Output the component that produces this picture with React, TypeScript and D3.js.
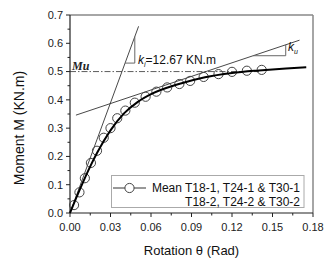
import React from "react";
import * as d3 from "d3";

const xTicks = [0, 0.03, 0.06, 0.09, 0.12, 0.15, 0.18];
const yTicks = [0, 0.1, 0.2, 0.3, 0.4, 0.5, 0.6, 0.7];
const xMinor = [0.015, 0.045, 0.075, 0.105, 0.135, 0.165];
const yMinor = [0.05, 0.15, 0.25, 0.35, 0.45, 0.55, 0.65];

const meanX = [0.003, 0.007, 0.011, 0.0155, 0.02, 0.025, 0.03, 0.035, 0.041, 0.048, 0.056, 0.064, 0.072, 0.081, 0.089, 0.099, 0.11, 0.12, 0.131, 0.142];
const meanY = [0.028, 0.073, 0.123, 0.177, 0.22, 0.266, 0.3, 0.335, 0.362, 0.39, 0.411, 0.429, 0.444, 0.456, 0.467, 0.481, 0.491, 0.499, 0.503, 0.506];

const fitX = [0, 0.005, 0.01, 0.015, 0.02, 0.03, 0.04, 0.05, 0.06, 0.08, 0.1, 0.12, 0.14, 0.16, 0.175];
const fitY = [0, 0.058, 0.113, 0.165, 0.212, 0.292, 0.352, 0.392, 0.42, 0.455, 0.48, 0.495, 0.504, 0.511, 0.515];

// initial stiffness line (through origin) and post-yield line
const kiLineX = [0, 0.0508];
const kiLineY = [0, 0.66];
const kuLineX = [0.0044, 0.17];
const kuLineY = [0.346, 0.611];
const muValue = 0.5;
const muEndX = 0.14;

const W = 334, H = 269;
const M = { left: 70, right: 313, top: 15, bottom: 213 };

export default function App() {
  const x = d3.scaleLinear().domain([0, 0.18]).range([M.left, M.right]);
  const y = d3.scaleLinear().domain([0, 0.7]).range([M.bottom, M.top]);
  const font = "'Liberation Sans', Arial, sans-serif";

  const fit = d3.line<number>().x((_, i) => x(fitX[i])).y((d) => y(d)).curve(d3.curveMonotoneX)(fitY) || "";

  const kiSlope = (kiLineY[1] - kiLineY[0]) / (kiLineX[1] - kiLineX[0]);
  const kuSlope = (kuLineY[1] - kuLineY[0]) / (kuLineX[1] - kuLineX[0]);
  // ki triangle
  const kiTriY = 0.53, kiTriX2 = 0.048;
  const kiTriX1 = kiTriY / kiSlope;
  const kiTriTop = kiSlope * kiTriX2;
  // ku triangle
  const kuTriY = 0.556, kuTriX2 = 0.1598;
  const kuTriX1 = kuLineX[0] + (kuTriY - kuLineY[0]) / kuSlope;
  const kuTriTop = kuLineY[0] + kuSlope * (kuTriX2 - kuLineX[0]);

  return (
    <svg width={W} height={H} style={{ position: "absolute", left: 0, top: 0, background: "#fff" }}>
      <rect x={0} y={0} width={W} height={H} fill="#fff" />
      {/* frame */}
      <line x1={M.left} x2={M.right} y1={M.top} y2={M.top} stroke="#888" strokeWidth={1.5} />
      <line x1={M.right} x2={M.right} y1={M.top} y2={M.bottom} stroke="#888" strokeWidth={1.5} />
      <line x1={M.left} x2={M.left} y1={M.top} y2={M.bottom} stroke="#222" strokeWidth={1.2} />
      <line x1={M.left} x2={M.right} y1={M.bottom} y2={M.bottom} stroke="#222" strokeWidth={1.2} />
      {/* y ticks */}
      {yTicks.map((t) => (
        <g key={"y" + t}>
          <line x1={M.left - 4} x2={M.left} y1={y(t)} y2={y(t)} stroke="#222" />
          <text x={M.left - 7} y={y(t)} dy="0.35em" textAnchor="end" fontFamily={font} fontSize={11} fill="#222">{t.toFixed(1)}</text>
        </g>
      ))}
      {yMinor.map((t) => (
        <line key={"ym" + t} x1={M.left - 2.5} x2={M.left} y1={y(t)} y2={y(t)} stroke="#222" />
      ))}
      {xTicks.map((t) => (
        <g key={"x" + t}>
          <line x1={x(t)} x2={x(t)} y1={M.bottom} y2={M.bottom + 4} stroke="#222" />
          <text x={x(t)} y={M.bottom + 18} textAnchor="middle" fontFamily={font} fontSize={11} fill="#222">{t.toFixed(2)}</text>
        </g>
      ))}
      {xMinor.map((t) => (
        <line key={"xm" + t} x1={x(t)} x2={x(t)} y1={M.bottom} y2={M.bottom + 2.5} stroke="#222" />
      ))}
      {/* axis labels */}
      <text x={(M.left + M.right) / 2} y={255} textAnchor="middle" fontFamily={font} fontSize={13} fill="#111">Rotation θ (Rad)</text>
      <text transform="translate(19,128) rotate(-90)" dy="0.35em" textAnchor="middle" fontFamily={font} fontSize={14} fill="#111">Moment M (KN.m)</text>

      {/* Mu line */}
      <line x1={x(0)} x2={x(muEndX)} y1={y(muValue)} y2={y(muValue)} stroke="#333" strokeWidth={0.8} strokeDasharray="6 2 1.5 2" />
      <text x={72} y={y(muValue) - 1.5} fontFamily="'Liberation Serif', 'Times New Roman', serif" fontStyle="italic" fontWeight="bold" fontSize={12} fill="#222">Mu</text>

      {/* stiffness lines */}
      <line x1={x(kiLineX[0])} y1={y(kiLineY[0])} x2={x(kiLineX[1])} y2={y(kiLineY[1])} stroke="#333" strokeWidth={0.9} />
      <line x1={x(kuLineX[0])} y1={y(kuLineY[0])} x2={x(kuLineX[1])} y2={y(kuLineY[1])} stroke="#333" strokeWidth={0.9} />
      <polyline points={`${x(kiTriX1)},${y(kiTriY)} ${x(kiTriX2)},${y(kiTriY)} ${x(kiTriX2)},${y(kiTriTop)}`} fill="none" stroke="#666" strokeWidth={1} />
      <polyline points={`${x(kuTriX1)},${y(kuTriY)} ${x(kuTriX2)},${y(kuTriY)} ${x(kuTriX2)},${y(kuTriTop)}`} fill="none" stroke="#666" strokeWidth={1} />
      <text x={138} y={64} fontFamily={font} fontSize={12} fill="#111">
        <tspan fontStyle="italic">k</tspan>
        <tspan fontStyle="italic" fontSize={7} dy={3}>i</tspan>
        <tspan dy={-3}>=12.67 KN.m</tspan>
      </text>
      <text x={288} y={51} fontFamily={font} fontSize={12} fill="#111">
        <tspan fontStyle="italic">k</tspan>
        <tspan fontStyle="italic" fontSize={7} dy={3}>u</tspan>
      </text>

      {/* circles */}
      {meanY.map((v, i) => (
        <circle key={"c" + i} cx={x(meanX[i])} cy={y(v)} r={4.6} fill="none" stroke="#444" strokeWidth={1} />
      ))}
      {/* fit curve */}
      <path d={fit} fill="none" stroke="#000" strokeWidth={2} />

      {/* legend */}
      <rect x={111.5} y={175.5} width={192.5} height={32} fill="#fff" stroke="#aaa" strokeWidth={1} />
      <line x1={113} x2={146} y1={188} y2={188} stroke="#333" strokeWidth={1} />
      <circle cx={129.5} cy={188} r={4.6} fill="#fff" stroke="#444" strokeWidth={1} />
      <text x={300} y={188} dy="0.35em" textAnchor="end" fontFamily={font} fontSize={12} fill="#111">Mean T18-1, T24-1 &amp; T30-1</text>
      <text x={300} y={201.5} dy="0.35em" textAnchor="end" fontFamily={font} fontSize={12} fill="#111">T18-2, T24-2 &amp; T30-2</text>
    </svg>
  );
}
